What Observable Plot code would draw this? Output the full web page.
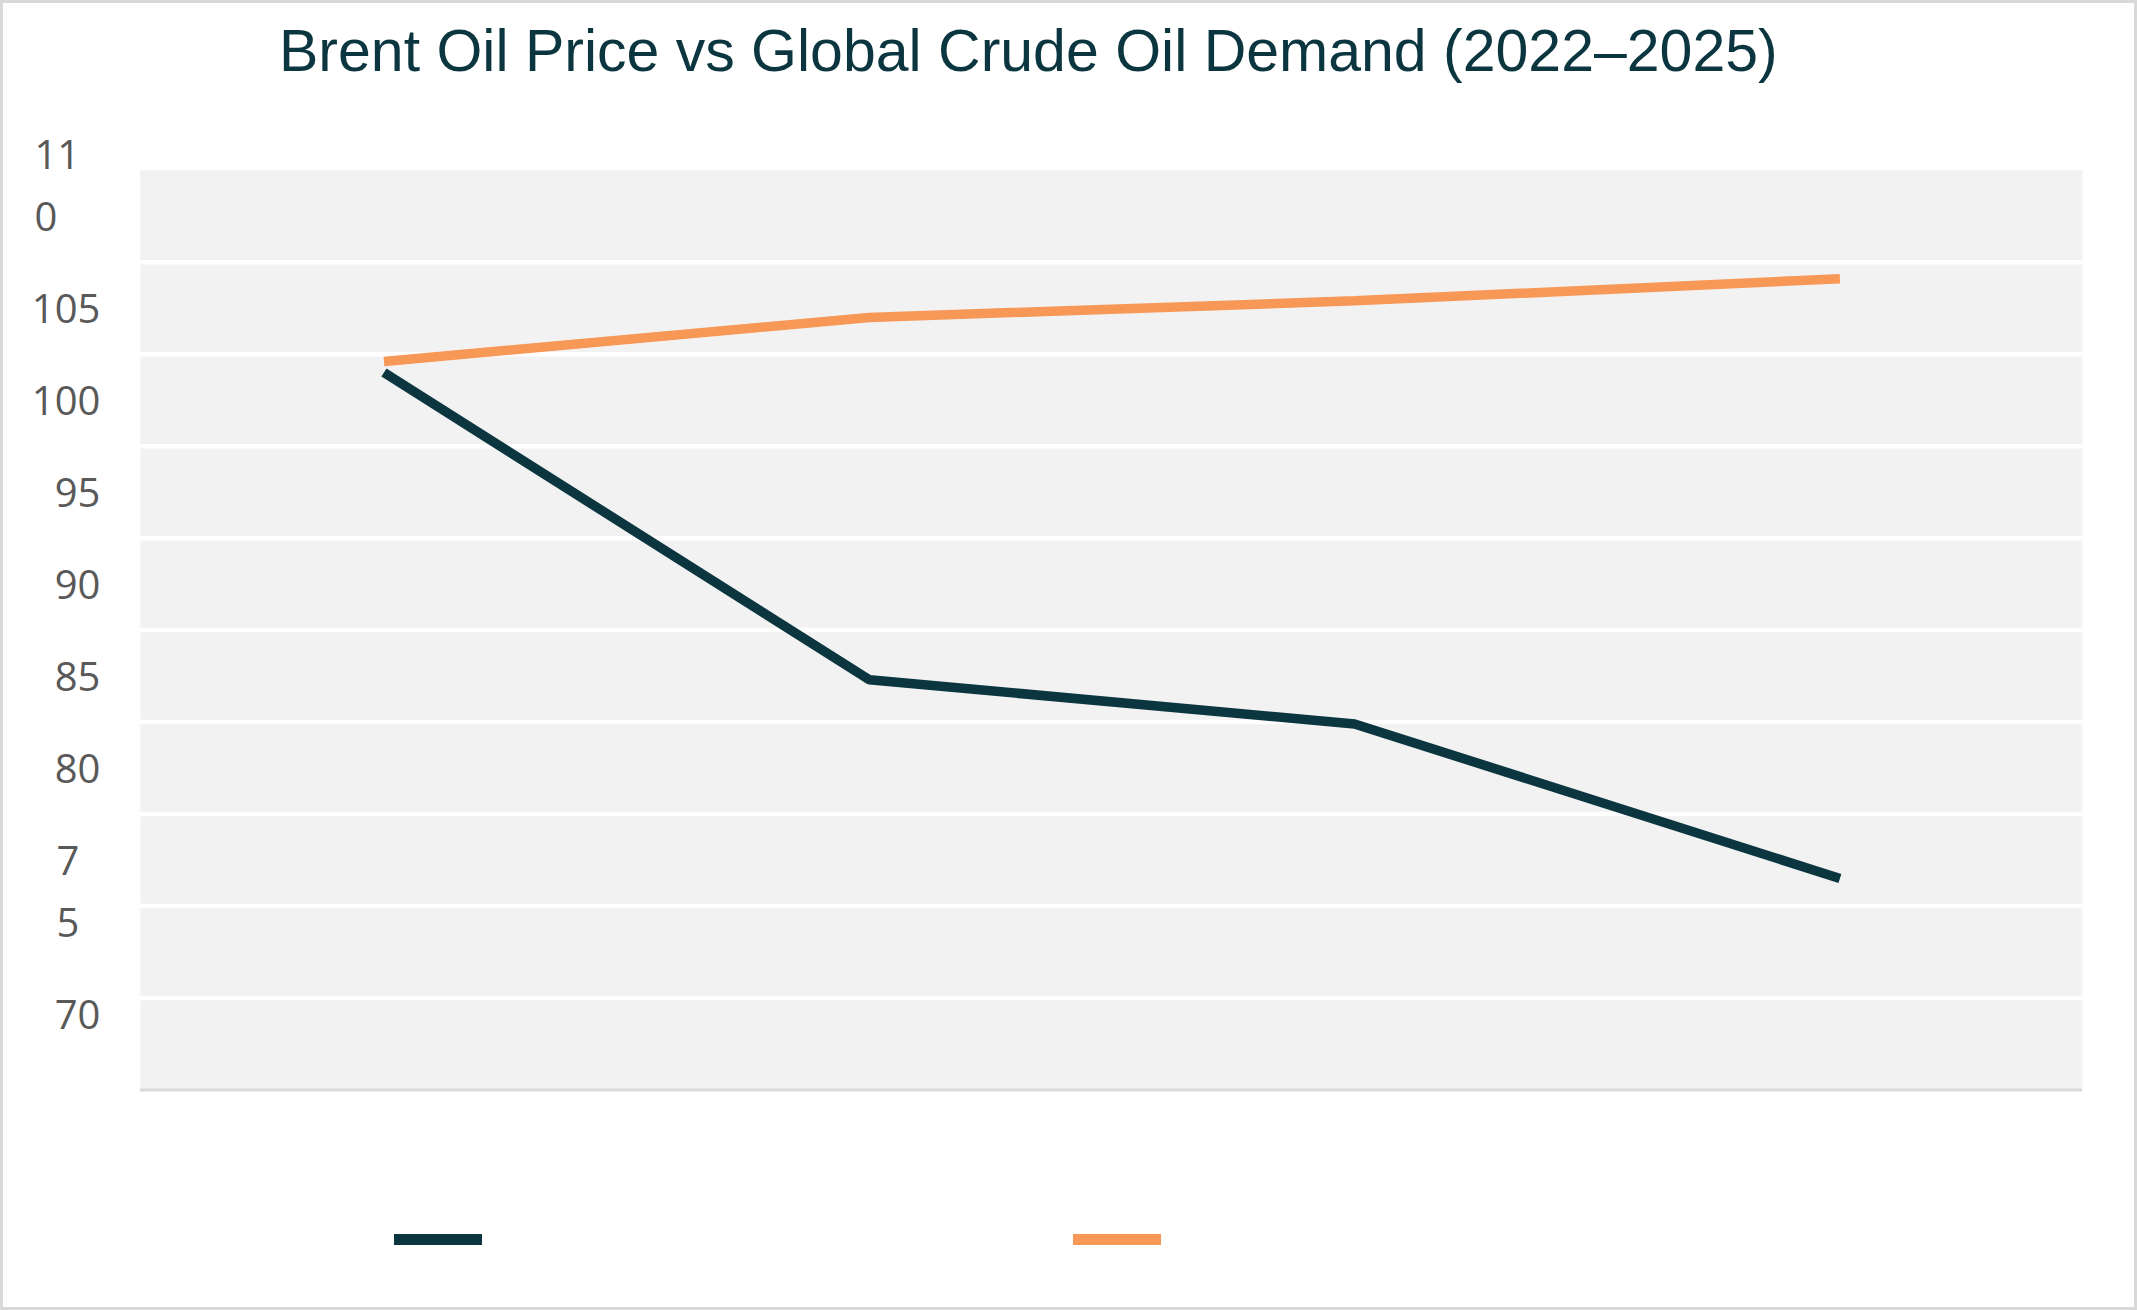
<!DOCTYPE html>
<html>
<head>
<meta charset="utf-8">
<script src="https://cdn.jsdelivr.net/npm/d3@7"></script>
<script src="https://cdn.jsdelivr.net/npm/@observablehq/plot@0.6"></script>
<style>
  html, body { margin: 0; padding: 0; background: #fff; }
  #chart {
    position: relative; width: 2137px; height: 1310px;
    box-sizing: border-box; border: 3px solid #d9d9d9; background: #fff; overflow: hidden;
  }
  #title {
    position: absolute; left: 276px; top: 19px; white-space: nowrap;
    font-family: "Liberation Sans", Arial, sans-serif; font-size: 59px; line-height: 59px;
    color: #0b3640;
  }
  #plot { position: absolute; left: -3px; top: -3px; }
  .sw { position: absolute; height: 11px; width: 88px; top: 1231px; }
</style>
</head>
<body>
<div id="chart">
  <div id="title">Brent Oil Price vs Global Crude Oil Demand (2022–2025)</div>
  <div id="plot"></div>
  <div class="sw" id="sw0"></div>
  <div class="sw" id="sw1"></div>
</div>
<script>
// ---- data ----
const years = ["2022", "2023", "2024", "2025"];
const brentPrice = [104.0, 87.3, 84.9, 76.5];
const crudeDemand = [104.6, 107.0, 107.9, 109.1];
const seriesNames = ["Brent Oil Price", "Global Crude Oil Demand"];
const seriesColors = ["#0b3640", "#f79857"];
const gridValues = [70, 75, 80, 85, 90, 95, 100, 105, 110];
const tickValues = [110, 105, 100, 95, 90, 85, 80, 75, 70];
const tickLabels = ["11\n0", "105", "100", "95", "90", "85", "80", "7\n5", "70"];

// ---- build tables ----
const brent = years.map((y, i) => ({year: y, value: brentPrice[i]}));
const demand = years.map((y, i) => ({year: y, value: crudeDemand[i]}));

// tick labels flow: each label sits in the band above its value; wrapped lines push later labels down
const lineGap = 3.38; // one text line expressed in y units
const bandOffset = 2.4;
const singleLines = [];
const wrappedGroups = [];
let extra = 0;
tickValues.forEach((v, i) => {
  const lines = tickLabels[i].split("\n");
  const full = lines.join("");
  const rows = lines.map((t, j) => ({text: t, y: v + bandOffset + lineGap * (1 - extra - j)}));
  if (lines.length === 1) singleLines.push(...rows);
  else wrappedGroups.push({len: full.length, rows});
  extra += lines.length - 1;
});

const labelFont = {fontFamily: "'Open Sans', 'Noto Sans', sans-serif", fontSize: 40, fill: "#595959"};

const chart = Plot.plot({
  width: 2137,
  height: 1310,
  marginTop: 170,
  marginBottom: 219,
  marginLeft: 140,
  marginRight: 52,
  style: {background: "transparent", overflow: "visible"},
  x: {type: "point", domain: years, padding: 0.5, axis: null},
  y: {domain: [65, 115], axis: null},
  marks: [
    Plot.frame({fill: "#f2f2f2", stroke: "none"}),
    Plot.ruleY(gridValues, {stroke: "#ffffff", strokeWidth: 4.5}),
    Plot.ruleY([65], {stroke: "#d9d9d9", strokeWidth: 3}),
    Plot.line(brent, {x: "year", y: "value", stroke: seriesColors[0], strokeWidth: 9.5, strokeLinecap: "butt", strokeLinejoin: "miter"}),
    Plot.line(demand, {x: "year", y: "value", stroke: seriesColors[1], strokeWidth: 9.5, strokeLinecap: "butt", strokeLinejoin: "miter"}),
    Plot.text(singleLines, {y: "y", text: "text", frameAnchor: "left", textAnchor: "end", dx: -40, ...labelFont}),
    ...wrappedGroups.map(g =>
      Plot.text(g.rows, {y: "y", text: "text", frameAnchor: "left", textAnchor: "start", dx: -40 - g.len * 22, ...labelFont})
    )
  ]
});
document.getElementById("plot").appendChild(chart);

// legend swatches (no text in the reference)
const swLeft = [391, 1070];
seriesColors.forEach((c, i) => {
  const el = document.getElementById("sw" + i);
  el.style.background = c;
  el.style.left = swLeft[i] + "px";
  el.title = seriesNames[i];
});
</script>
</body>
</html>
